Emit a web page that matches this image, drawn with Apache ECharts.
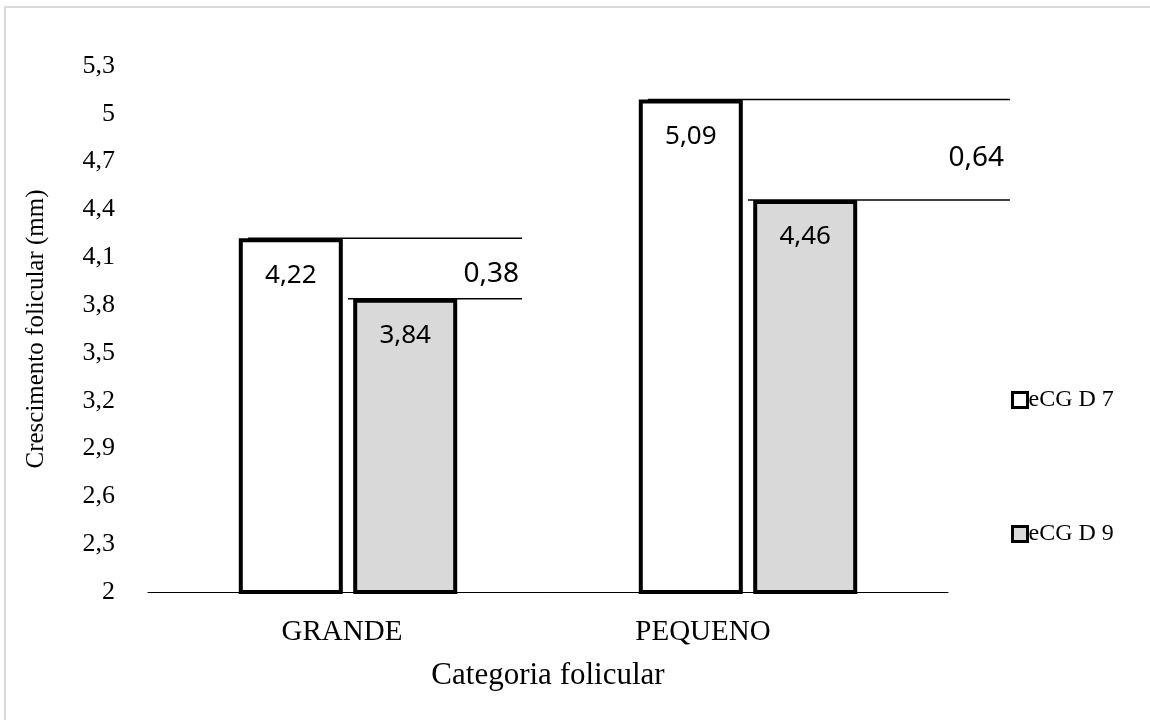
<!DOCTYPE html>
<html>

<head>
    <title>Crescimento folicular</title>
    <meta charset="utf-8" />
    <script src="https://cdn.jsdelivr.net/npm/echarts@6/dist/echarts.min.js"></script>
    <style type="text/css">
        html,
        body {
            width: 100%;
            height: 100%;
            margin: 0;
            background: #fff;
        }

        #chart {
            width: 1150px;
            height: 720px;
        }
    </style>
</head>

<body>
    <div id="chart"></div>
    <script>
        // dados
        var categorias = ['GRANDE', 'PEQUENO'];
        var ecgD7 = [4.22, 5.09];
        var ecgD9 = [3.84, 4.46];
        var diferencas = [0.38, 0.64];

        var serif = '"Liberation Serif", "Times New Roman", serif';
        var sans = '"Noto Sans", "Open Sans", sans-serif';
        // alcance das linhas a partir do centro da categoria (px)
        var alcance = [174, 262];
        // deslocamento dos rótulos de categoria (px, padding à direita)
        var desloc = [12, 90];

        function virgula(v) {
            return String(+(+v).toFixed(2)).replace('.', ',');
        }

        var chart = echarts.init(document.getElementById('chart'));

        var option = {
            backgroundColor: '#fff',
            animation: false,
            graphic: [{
                type: 'rect',
                shape: { x: 5, y: 7, width: 1160, height: 730 },
                style: { fill: 'none', stroke: '#d9d9d9', lineWidth: 2 },
                silent: true
            }],
            grid: {
                left: 148,
                right: 202,
                top: 66,
                bottom: 128
            },
            legend: {
                orient: 'vertical',
                left: 1006,
                top: 383,
                itemGap: 110,
                itemWidth: 15,
                itemHeight: 15,
                icon: 'rect',
                itemStyle: { borderWidth: 3, borderColor: '#000' },
                textStyle: { fontFamily: serif, fontSize: 24, color: '#000', padding: [0, 0, 0, -4] },
                data: ['eCG D 7', 'eCG D 9']
            },
            xAxis: {
                type: 'category',
                data: categorias.map(function (c, i) {
                    return { value: c, textStyle: { padding: [0, desloc[i], 0, 0] } };
                }),
                name: 'Categoria folicular',
                nameLocation: 'middle',
                nameGap: 68,
                nameTextStyle: { fontFamily: serif, fontSize: 31, color: '#000' },
                axisLine: { lineStyle: { color: '#000', width: 1 } },
                axisTick: { show: false },
                axisLabel: { fontFamily: serif, fontSize: 29, color: '#000', margin: 26 }
            },
            yAxis: {
                type: 'value',
                min: 2,
                max: 5.3,
                interval: 0.3,
                name: 'Crescimento folicular (mm)',
                nameLocation: 'middle',
                nameGap: 99,
                nameTextStyle: { fontFamily: serif, fontSize: 25, color: '#000' },
                axisLine: { show: false },
                axisTick: { show: false },
                splitLine: { show: false },
                axisLabel: {
                    fontFamily: serif, fontSize: 26, color: '#000', margin: 33,
                    formatter: function (v) { return String(+v.toFixed(1)).replace('.', ','); }
                }
            },
            series: [
                {
                    // linhas de diferença e rótulo
                    type: 'custom',
                    z: 1,
                    silent: true,
                    data: categorias.map(function (c, i) {
                        return [i, ecgD7[i], ecgD9[i], diferencas[i]];
                    }),
                    renderItem: function (params, api) {
                        var i = api.value(0);
                        var p7 = api.coord([i, api.value(1)]);
                        var p9 = api.coord([i, api.value(2)]);
                        var pm = api.coord([i, (api.value(1) + api.value(2)) / 2]);
                        var fim = p7[0] + alcance[params.dataIndex];
                        return {
                            type: 'group',
                            children: [{
                                type: 'line',
                                shape: { x1: p7[0] - 100, y1: p7[1], x2: fim, y2: p7[1] },
                                style: { stroke: '#000', lineWidth: 1.5 }
                            }, {
                                type: 'line',
                                shape: { x1: p9[0], y1: p9[1], x2: fim, y2: p9[1] },
                                style: { stroke: '#000', lineWidth: 1.5 }
                            }, {
                                type: 'text',
                                x: fim - 3 - 3 * params.dataIndex,
                                y: pm[1] + 6 + 2 * params.dataIndex,
                                style: {
                                    text: virgula(api.value(3)),
                                    fontFamily: sans,
                                    fontSize: 28,
                                    fill: '#000',
                                    align: 'right',
                                    verticalAlign: 'middle'
                                }
                            }]
                        };
                    }
                },
                {
                    name: 'eCG D 7',
                    type: 'bar',
                    z: 3,
                    data: ecgD7,
                    barWidth: 104,
                    barGap: '10%',
                    itemStyle: { color: '#fff', borderColor: '#000', borderWidth: 4 },
                    label: {
                        show: true, position: 'insideTop', distance: 24,
                        fontFamily: sans, fontSize: 26, color: '#000',
                        formatter: function (p) { return virgula(p.value); }
                    }
                },
                {
                    name: 'eCG D 9',
                    type: 'bar',
                    z: 3,
                    data: ecgD9,
                    barWidth: 104,
                    itemStyle: { color: '#d9d9d9', borderColor: '#000', borderWidth: 4 },
                    label: {
                        show: true, position: 'insideTop', distance: 24,
                        fontFamily: sans, fontSize: 26, color: '#000',
                        formatter: function (p) { return virgula(p.value); }
                    }
                }
            ]
        };
        chart.setOption(option);

    </script>
</body>

</html>
